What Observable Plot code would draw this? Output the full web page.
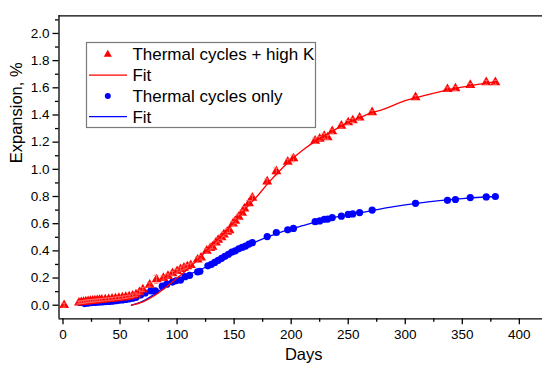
<!DOCTYPE html>
<html>
<head>
<meta charset="utf-8">
<script src="https://cdn.jsdelivr.net/npm/d3@7"></script>
<script src="https://cdn.jsdelivr.net/npm/@observablehq/plot@0.6"></script>
<style>
  body { margin: 0; background: #fff; }
  #chart svg { display: block; font-family: "Liberation Sans", Arial, sans-serif; }
</style>
</head>
<body>
<div id="chart"></div>
<script>
// Expansion measurements, thermal cycles + high K (days, %, error)
const highKDays = [1, 14, 16, 18, 20, 22, 24, 26, 28, 30, 32, 34, 37, 40, 43, 46, 49, 52, 55, 58,
  61, 64, 67, 70, 76, 82, 88, 92, 96, 100, 103, 106, 109, 112, 118, 121, 126, 129, 131, 134,
  136, 139, 141, 144, 146, 149, 151, 154, 157, 159, 163, 166, 179, 187, 197, 202, 221, 225, 229, 232,
  236, 244, 250, 254, 260, 271, 309, 337, 344, 357, 371, 379];
const highKExpansion = [0.00, 0.019, 0.022, 0.024, 0.027, 0.029, 0.031, 0.032, 0.034, 0.036, 0.038, 0.040, 0.042, 0.044, 0.047, 0.050, 0.053, 0.056, 0.060, 0.064,
  0.070, 0.078, 0.095, 0.115, 0.15, 0.19, 0.20, 0.215, 0.235, 0.25, 0.265, 0.275, 0.285, 0.295, 0.335, 0.35, 0.40, 0.42, 0.43, 0.46,
  0.48, 0.50, 0.52, 0.54, 0.55, 0.60, 0.62, 0.65, 0.68, 0.71, 0.75, 0.79, 0.91, 0.985, 1.055, 1.08, 1.21, 1.225, 1.245, 1.235,
  1.28, 1.32, 1.345, 1.36, 1.38, 1.42, 1.53, 1.59, 1.595, 1.62, 1.64, 1.64];
const highKError = [0.015, 0.01, 0.01, 0.01, 0.01, 0.01, 0.01, 0.01, 0.01, 0.01, 0.01, 0.01, 0.01, 0.01, 0.01, 0.01, 0.01, 0.01, 0.01, 0.01,
  0.012, 0.012, 0.015, 0.015, 0.015, 0.03, 0.015, 0.015, 0.015, 0.015, 0.015, 0.015, 0.015, 0.015, 0.02, 0.015, 0.015, 0.015, 0.015, 0.015,
  0.015, 0.015, 0.015, 0.02, 0.015, 0.015, 0.02, 0.02, 0.02, 0.015, 0.02, 0.02, 0.02, 0.025, 0.02, 0.025, 0.02, 0.015, 0.02, 0.015,
  0.015, 0.015, 0.015, 0.015, 0.015, 0.012, 0.012, 0.015, 0.015, 0.012, 0.015, 0.015];

// Expansion measurements, thermal cycles only (days, %)
const cyclesDays = [15, 19, 22, 25, 28, 31, 34, 37, 40, 43, 46, 49, 52, 55, 58, 61, 64, 68, 72, 77,
  81, 87, 91, 96, 99, 103, 107, 111, 118, 120, 127, 130, 133, 136, 139, 142, 145, 148, 151, 154,
  157, 160, 163, 166, 179, 187, 197, 202, 221, 225, 229, 232, 236, 244, 250, 254, 260, 271, 309, 337,
  344, 357, 371, 379];
const cyclesExpansion = [0.02, 0.012, 0.016, 0.018, 0.02, 0.022, 0.024, 0.026, 0.028, 0.03, 0.033, 0.036, 0.039, 0.042, 0.046, 0.052, 0.058, 0.075, 0.09, 0.105,
  0.105, 0.14, 0.155, 0.17, 0.18, 0.185, 0.21, 0.22, 0.245, 0.25, 0.29, 0.30, 0.315, 0.33, 0.345, 0.36, 0.375, 0.39, 0.40, 0.415,
  0.425, 0.435, 0.45, 0.46, 0.505, 0.535, 0.555, 0.565, 0.615, 0.62, 0.632, 0.634, 0.645, 0.655, 0.668, 0.672, 0.682, 0.70, 0.75, 0.772,
  0.778, 0.792, 0.797, 0.80];

// Fitted curves
const highKFitDays = [60, 70, 80, 90, 100, 110, 120, 130, 140, 150, 160, 170, 180, 190, 200, 210, 220, 230, 240, 250, 260, 270, 280, 300, 320, 340, 360, 380];
const highKFitValues = [0, 0.025, 0.07, 0.13, 0.2, 0.27, 0.35, 0.44, 0.52, 0.61, 0.71, 0.8, 0.9, 0.99, 1.07, 1.14, 1.2, 1.25, 1.3, 1.345, 1.38, 1.415, 1.44, 1.505, 1.55, 1.59, 1.62, 1.645];
const cyclesFitDays = [60, 70, 80, 90, 100, 110, 120, 130, 140, 150, 160, 170, 180, 190, 200, 210, 220, 230, 240, 250, 260, 270, 290, 310, 330, 350, 380];
const cyclesFitValues = [0, 0.03, 0.08, 0.14, 0.185, 0.225, 0.26, 0.3, 0.34, 0.385, 0.43, 0.47, 0.505, 0.535, 0.56, 0.585, 0.61, 0.63, 0.65, 0.665, 0.68, 0.695, 0.725, 0.75, 0.77, 0.785, 0.8];

// Axis ticks
const xTicks = [0, 50, 100, 150, 200, 250, 300, 350, 400];
const xMinorTicks = [25, 75, 125, 175, 225, 275, 325, 375];
const yTicks = [0, 0.2, 0.4, 0.6, 0.8, 1.0, 1.2, 1.4, 1.6, 1.8, 2.0];
const yMinorTicks = [0.1, 0.3, 0.5, 0.7, 0.9, 1.1, 1.3, 1.5, 1.7, 1.9, 2.1];

// Legend entries
const legendLabels = ["Thermal cycles + high K", "Fit", "Thermal cycles only", "Fit"];
const legendKinds = ["triangle", "line", "circle", "line"];
const legendColors = ["#ff0000", "#ff0000", "#0000ff", "#0000ff"];

const RED = "#ff0000", BLUE = "#0000ff";
const xDomain = [-3.5, 420.3];
const yDomain = [-0.1, 2.13];

const highK = highKDays.map((d, i) => ({day: d, value: highKExpansion[i], err: highKError[i]}));
const cycles = cyclesDays.map((d, i) => ({day: d, value: cyclesExpansion[i]}));
const highKFit = highKFitDays.map((d, i) => ({day: d, value: highKFitValues[i]}));
const cyclesFit = cyclesFitDays.map((d, i) => ({day: d, value: cyclesFitValues[i]}));

const errStroke = "#ff6a6a";

const chart = Plot.plot({
  width: 542,
  height: 374,
  marginLeft: 58.5,
  marginRight: 0,
  marginTop: 15.3,
  marginBottom: 55.7,
  x: {domain: xDomain},
  y: {domain: yDomain},
  style: {fontFamily: "'Liberation Sans', Arial, sans-serif", fontSize: "13.5px", color: "#000", background: "#fff", overflow: "visible"},
  marks: [
    // frame lines (top, left, bottom)
    Plot.ruleY([yDomain[1]], {stroke: "#000", strokeWidth: 1.3}),
    Plot.ruleY([yDomain[0]], {stroke: "#000", strokeWidth: 1.3}),
    Plot.ruleX([xDomain[0]], {stroke: "#000", strokeWidth: 1.3}),
    // axes
    Plot.axisX(xTicks, {tickSize: 6, tickPadding: 5, strokeWidth: 1.3, fontSize: 13.5, label: null}),
    Plot.axisX(xMinorTicks, {tickSize: 3.5, strokeWidth: 1.3, tickFormat: () => "", label: null}),
    Plot.axisY(yTicks, {tickSize: 6, tickPadding: 3.5, strokeWidth: 1.3, fontSize: 13.5, tickFormat: d3.format(".1f"), label: null}),
    Plot.axisY(yMinorTicks, {tickSize: 3.5, strokeWidth: 1.3, tickFormat: () => "", label: null}),
    // axis titles
    Plot.text(["Expansion, %"], {frameAnchor: "left", rotate: -90, dx: -42.5, dy: -4, fontSize: 16.5, fill: "#000"}),
    Plot.text(["Days"], {frameAnchor: "bottom", dx: 3, dy: 41.5, fontSize: 16.5, fill: "#000"}),
    // measurements
    Plot.dot(cycles, {x: "day", y: "value", r: 3.6, fill: BLUE}),
    Plot.dot(highK, {x: "day", y: "value", symbol: "triangle", r: 3.7, fill: RED}),
    // error bars
    Plot.ruleX(highK, {x: "day", y1: d => d.value - d.err, y2: d => d.value + d.err, stroke: errStroke, strokeWidth: 1, strokeOpacity: 0.85}),
    Plot.ruleY(highK, {y: d => d.value + d.err, x1: d => d.day - 2, x2: d => d.day + 2, stroke: errStroke, strokeWidth: 1, strokeOpacity: 0.85}),
    Plot.ruleY(highK, {y: d => d.value - d.err, x1: d => d.day - 2, x2: d => d.day + 2, stroke: errStroke, strokeWidth: 1, strokeOpacity: 0.85}),
    // fitted curves
    Plot.line(cyclesFit, {x: "day", y: "value", curve: "monotone-x", stroke: BLUE, strokeWidth: 1.3}),
    Plot.line(highKFit, {x: "day", y: "value", curve: "monotone-x", stroke: RED, strokeWidth: 1.3})
  ]
});

document.getElementById("chart").append(chart);

// Legend box inside the plot area
const svg = d3.select(chart);
const legend = svg.append("g")
  .attr("font-family", "'Liberation Sans', Arial, sans-serif")
  .attr("text-anchor", "start");
legend.append("rect")
  .attr("x", 86.5).attr("y", 42.5).attr("width", 229).attr("height", 85)
  .attr("fill", "#fff").attr("stroke", "#7a7a7a").attr("stroke-width", 1.2);
const rowY = [54.3, 75.2, 96, 116.7];
legendLabels.forEach((label, i) => {
  const y = rowY[i];
  const kind = legendKinds[i];
  const color = legendColors[i];
  if (kind === "line") {
    legend.append("line").attr("x1", 89).attr("x2", 127).attr("y1", y).attr("y2", y)
      .attr("stroke", color).attr("stroke-width", 1.3);
  } else if (kind === "triangle") {
    legend.append("path").attr("d", d3.symbol(d3.symbolTriangle, Math.PI * 9)())
      .attr("transform", `translate(107.8,${y})`).attr("fill", color);
  } else {
    legend.append("circle").attr("cx", 107.8).attr("cy", y).attr("r", 3).attr("fill", color);
  }
  legend.append("text").attr("x", 132.4).attr("y", y + 6.1)
    .attr("text-anchor", "start")
    .attr("font-size", 17).attr("fill", "#000").text(label);
});
</script>
</body>
</html>
